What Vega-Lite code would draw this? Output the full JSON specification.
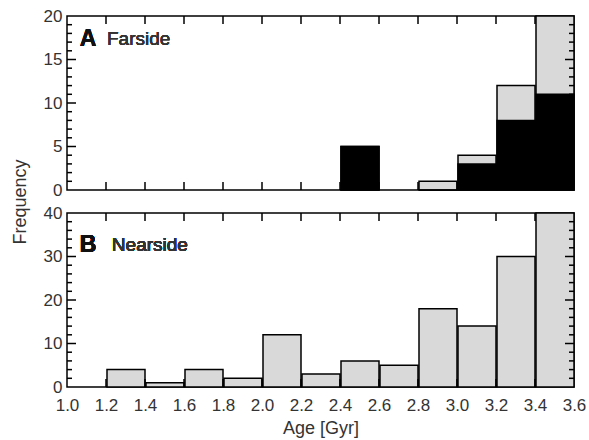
{
  "$schema": "https://vega.github.io/schema/vega-lite/v6.json",
  "padding": {"left": 10, "top": 6, "right": 4, "bottom": 4},
  "background": "white",
  "spacing": 23,
  "bounds": "flush",
  "datasets": {
    "far": [
      {"start": 2.4, "end": 2.6, "black": 5, "total": 5},
      {"start": 2.8, "end": 3.0, "black": 0, "total": 1},
      {"start": 3.0, "end": 3.2, "black": 3, "total": 4},
      {"start": 3.2, "end": 3.4, "black": 8, "total": 12},
      {"start": 3.4, "end": 3.6, "black": 11, "total": 20}
    ],
    "near": [
      {"start": 1.2, "end": 1.4, "count": 4},
      {"start": 1.4, "end": 1.6, "count": 1},
      {"start": 1.6, "end": 1.8, "count": 4},
      {"start": 1.8, "end": 2.0, "count": 2},
      {"start": 2.0, "end": 2.2, "count": 12},
      {"start": 2.2, "end": 2.4, "count": 3},
      {"start": 2.4, "end": 2.6, "count": 6},
      {"start": 2.6, "end": 2.8, "count": 5},
      {"start": 2.8, "end": 3.0, "count": 18},
      {"start": 3.0, "end": 3.2, "count": 14},
      {"start": 3.2, "end": 3.4, "count": 30},
      {"start": 3.4, "end": 3.6, "count": 40}
    ],
    "xt": [{"v": 1.2}, {"v": 1.4}, {"v": 1.6}, {"v": 1.8}, {"v": 2.0}, {"v": 2.2}, {"v": 2.4}, {"v": 2.6}, {"v": 2.8}, {"v": 3.0}, {"v": 3.2}, {"v": 3.4}],
    "yMajA": [{"v": 5}, {"v": 10}, {"v": 15}],
    "yMinA": [{"v": 1}, {"v": 2}, {"v": 3}, {"v": 4}, {"v": 6}, {"v": 7}, {"v": 8}, {"v": 9}, {"v": 11}, {"v": 12}, {"v": 13}, {"v": 14}, {"v": 16}, {"v": 17}, {"v": 18}, {"v": 19}],
    "yMajB": [{"v": 10}, {"v": 20}, {"v": 30}],
    "yMinB": [{"v": 2}, {"v": 4}, {"v": 6}, {"v": 8}, {"v": 12}, {"v": 14}, {"v": 16}, {"v": 18}, {"v": 22}, {"v": 24}, {"v": 26}, {"v": 28}, {"v": 32}, {"v": 34}, {"v": 36}, {"v": 38}]
  },
  "vconcat": [
    {
      "width": 507,
      "height": 174,
      "data": {"name": "far"},
      "layer": [
        {
          "mark": {"type": "bar", "color": "#d9d9d9", "stroke": "black", "strokeWidth": 1.5},
          "encoding": {
            "x": {"field": "start", "type": "quantitative", "bin": {"binned": true, "step": 0.2}, "scale": {"domain": [1, 3.6], "nice": false, "zero": false},
              "axis": {"orient": "bottom", "values": [1.0,1.2,1.4,1.6,1.8,2.0,2.2,2.4,2.6,2.8,3.0,3.2,3.4,3.6], "labels": false, "ticks": false, "title": null}},
            "x2": {"field": "end"},
            "y": {"field": "total", "type": "quantitative", "scale": {"domain": [0, 20], "nice": false},
              "axis": {"orient": "left", "values": [0,5,10,15,20], "ticks": false, "labelPadding": 5,
                "title": "Frequency", "titleX": -47, "titleY": 185.5, "titleBaseline": "middle"}}
          }
        },
        {
          "mark": {"type": "bar", "color": "black", "stroke": "black", "strokeWidth": 1.5},
          "encoding": {
            "x": {"field": "start", "type": "quantitative", "bin": {"binned": true, "step": 0.2}, "axis": null},
            "x2": {"field": "end"},
            "y": {"field": "black", "type": "quantitative", "axis": null}
          }
        },
        {
          "data": {"name": "xt"},
          "mark": {"type": "rule", "color": "black", "strokeWidth": 1.5},
          "encoding": {
            "x": {"field": "v", "type": "quantitative", "axis": null},
            "y": {"datum": 0, "type": "quantitative", "axis": null},
            "y2": {"datum": 0.92}
          }
        },
        {
          "data": {"name": "xt"},
          "mark": {"type": "rule", "color": "black", "strokeWidth": 1.5},
          "encoding": {
            "x": {"field": "v", "type": "quantitative", "axis": null},
            "y": {"datum": 20, "type": "quantitative", "axis": null},
            "y2": {"datum": 19.08}
          }
        },
        {
          "data": {"name": "yMajA"},
          "mark": {"type": "rule", "color": "black", "strokeWidth": 1.5},
          "encoding": {
            "y": {"field": "v", "type": "quantitative", "axis": null},
            "x": {"datum": 1.0, "type": "quantitative", "axis": null},
            "x2": {"datum": 1.0462}
          }
        },
        {
          "data": {"name": "yMajA"},
          "mark": {"type": "rule", "color": "black", "strokeWidth": 1.5},
          "encoding": {
            "y": {"field": "v", "type": "quantitative", "axis": null},
            "x": {"datum": 3.6, "type": "quantitative", "axis": null},
            "x2": {"datum": 3.5538}
          }
        },
        {
          "data": {"name": "yMinA"},
          "mark": {"type": "rule", "color": "black", "strokeWidth": 1.5},
          "encoding": {
            "y": {"field": "v", "type": "quantitative", "axis": null},
            "x": {"datum": 1.0, "type": "quantitative", "axis": null},
            "x2": {"datum": 1.0256}
          }
        },
        {
          "data": {"name": "yMinA"},
          "mark": {"type": "rule", "color": "black", "strokeWidth": 1.5},
          "encoding": {
            "y": {"field": "v", "type": "quantitative", "axis": null},
            "x": {"datum": 3.6, "type": "quantitative", "axis": null},
            "x2": {"datum": 3.5744}
          }
        },
        {
          "mark": {"type": "text", "text": "A", "fontWeight": "bold", "fontSize": 23, "align": "left", "baseline": "middle", "font": "Liberation Sans", "color": "#111"},
          "encoding": {
            "x": {"datum": 1.065, "type": "quantitative", "axis": null},
            "y": {"datum": 17.4, "type": "quantitative", "axis": null}
          }
        },
        {
          "mark": {"type": "text", "text": "Farside", "fontSize": 19, "align": "left", "baseline": "middle", "font": "Liberation Sans", "color": "#333"},
          "encoding": {
            "x": {"datum": 1.205, "type": "quantitative", "axis": null},
            "y": {"datum": 17.4, "type": "quantitative", "axis": null}
          }
        }
      ],
      "resolve": {"axis": {"x": "independent", "y": "independent"}}
    },
    {
      "width": 507,
      "height": 174,
      "data": {"name": "near"},
      "layer": [
        {
          "mark": {"type": "bar", "color": "#d9d9d9", "stroke": "black", "strokeWidth": 1.5},
          "encoding": {
            "x": {"field": "start", "type": "quantitative", "bin": {"binned": true, "step": 0.2}, "scale": {"domain": [1, 3.6], "nice": false, "zero": false},
              "axis": {"orient": "bottom", "values": [1.0,1.2,1.4,1.6,1.8,2.0,2.2,2.4,2.6,2.8,3.0,3.2,3.4,3.6], "format": ".1f", "ticks": false, "labelPadding": 10, "title": "Age [Gyr]", "titlePadding": 6}},
            "x2": {"field": "end"},
            "y": {"field": "count", "type": "quantitative", "scale": {"domain": [0, 40], "nice": false},
              "axis": {"orient": "left", "values": [0,10,20,30,40], "ticks": false, "labelPadding": 5, "title": null}}
          }
        },
        {
          "data": {"name": "xt"},
          "mark": {"type": "rule", "color": "black", "strokeWidth": 1.5},
          "encoding": {
            "x": {"field": "v", "type": "quantitative", "axis": null},
            "y": {"datum": 0, "type": "quantitative", "axis": null},
            "y2": {"datum": 1.84}
          }
        },
        {
          "data": {"name": "xt"},
          "mark": {"type": "rule", "color": "black", "strokeWidth": 1.5},
          "encoding": {
            "x": {"field": "v", "type": "quantitative", "axis": null},
            "y": {"datum": 40, "type": "quantitative", "axis": null},
            "y2": {"datum": 38.16}
          }
        },
        {
          "data": {"name": "yMajB"},
          "mark": {"type": "rule", "color": "black", "strokeWidth": 1.5},
          "encoding": {
            "y": {"field": "v", "type": "quantitative", "axis": null},
            "x": {"datum": 1.0, "type": "quantitative", "axis": null},
            "x2": {"datum": 1.0462}
          }
        },
        {
          "data": {"name": "yMajB"},
          "mark": {"type": "rule", "color": "black", "strokeWidth": 1.5},
          "encoding": {
            "y": {"field": "v", "type": "quantitative", "axis": null},
            "x": {"datum": 3.6, "type": "quantitative", "axis": null},
            "x2": {"datum": 3.5538}
          }
        },
        {
          "data": {"name": "yMinB"},
          "mark": {"type": "rule", "color": "black", "strokeWidth": 1.5},
          "encoding": {
            "y": {"field": "v", "type": "quantitative", "axis": null},
            "x": {"datum": 1.0, "type": "quantitative", "axis": null},
            "x2": {"datum": 1.0256}
          }
        },
        {
          "data": {"name": "yMinB"},
          "mark": {"type": "rule", "color": "black", "strokeWidth": 1.5},
          "encoding": {
            "y": {"field": "v", "type": "quantitative", "axis": null},
            "x": {"datum": 3.6, "type": "quantitative", "axis": null},
            "x2": {"datum": 3.5744}
          }
        },
        {
          "mark": {"type": "text", "text": "B", "fontWeight": "bold", "fontSize": 23, "align": "left", "baseline": "middle", "font": "Liberation Sans", "color": "#111"},
          "encoding": {
            "x": {"datum": 1.065, "type": "quantitative", "axis": null},
            "y": {"datum": 32.6, "type": "quantitative", "axis": null}
          }
        },
        {
          "mark": {"type": "text", "text": "Nearside", "fontSize": 19, "align": "left", "baseline": "middle", "font": "Liberation Sans", "color": "#333"},
          "encoding": {
            "x": {"datum": 1.23, "type": "quantitative", "axis": null},
            "y": {"datum": 32.6, "type": "quantitative", "axis": null}
          }
        }
      ],
      "resolve": {"axis": {"x": "independent", "y": "independent"}}
    }
  ],
  "config": {
    "view": {"stroke": "black", "strokeWidth": 1.5},
    "axis": {
      "domain": false,
      "grid": false,
      "labelFlush": false,
      "labelOverlap": false,
      "labelFont": "Liberation Sans",
      "labelFontSize": 17,
      "labelColor": "#333",
      "titleFont": "Liberation Sans",
      "titleFontSize": 18,
      "titleFontWeight": "normal",
      "titleColor": "#333"
    }
  }
}
